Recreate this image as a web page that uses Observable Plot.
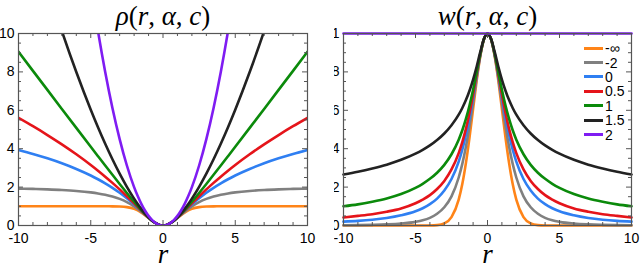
<!DOCTYPE html>
<html><head><meta charset="utf-8">
<script src="https://cdn.jsdelivr.net/npm/d3@7"></script>
<script src="https://cdn.jsdelivr.net/npm/@observablehq/plot@0.6"></script>
<style>
body{margin:0;background:#fff;}
#wrap{position:relative;width:640px;height:266px;overflow:hidden;background:#fff;}
#left{position:absolute;left:0;top:0;}
#right{position:absolute;left:334px;top:0;}
#legend{position:absolute;left:584px;top:41px;font-family:"Liberation Sans",Arial,sans-serif;font-size:14px;color:#000;}
.row{display:flex;align-items:center;height:14.4px;}
.sw{width:19px;height:3px;margin-right:2px;}
</style></head><body>
<div id="wrap"><div id="left"></div><div id="right"></div><div id="legend"></div></div>
<script>
// sampled radius (positive half; curves are symmetric in r)
const rHalf = [0,0.25,0.5,0.75,1,1.25,1.5,1.75,2,2.5,3,3.5,4,4.5,5,6,7,8,9,10];
const alphaLabels = ["-∞","-2","0","0.5","1","1.5","2"];
const colors = ["#ff8418","#808080","#2f7ff2","#e5141a","#0b8a0b","#222222","#7f1cf2"];

// rho(r, alpha, c)
const rhoNegInf = [0,0.031,0.118,0.245,0.393,0.542,0.675,0.784,0.865,0.956,0.989,0.998,1,1,1,1,1,1,1,1];
const rhoNeg2 = [0,0.031,0.118,0.247,0.4,0.562,0.72,0.867,1,1.22,1.385,1.508,1.6,1.67,1.724,1.8,1.849,1.882,1.906,1.923];
const rho0 = [0,0.031,0.118,0.248,0.406,0.577,0.754,0.929,1.099,1.417,1.705,1.964,2.197,2.409,2.603,2.944,3.239,3.497,3.726,3.932];
const rho05 = [0,0.031,0.118,0.249,0.409,0.586,0.772,0.962,1.151,1.523,1.88,2.22,2.544,2.854,3.15,3.708,4.226,4.712,5.17,5.604];
const rho1 = [0,0.031,0.118,0.25,0.414,0.601,0.803,1.016,1.236,1.693,2.162,2.64,3.123,3.61,4.099,5.083,6.071,7.062,8.055,9.05];
const rho15 = [0,0.031,0.118,0.253,0.427,0.631,0.864,1.12,1.399,2.014,2.7,3.449,4.256,5.117,6.028,7.991,10.128,12.426,14.873,17.461];
const rho2 = [0,0.031,0.125,0.281,0.5,0.781,1.125,1.531,2,3.125,4.5,6.125,8,10.125,12.5,18,24.5,32,40.5,50];

// w(r, alpha, c)
const wNegInf = [1,0.969,0.882,0.755,0.607,0.458,0.325,0.216,0.135,0.044,0.011,0.002,0.0003,0,0,0,0,0,0,0];
const wNeg2 = [1,0.969,0.886,0.769,0.64,0.517,0.41,0.321,0.25,0.152,0.095,0.061,0.04,0.027,0.019,0.01,0.0057,0.0035,0.0022,0.0015];
const w0 = [1,0.97,0.889,0.78,0.667,0.561,0.471,0.395,0.333,0.242,0.182,0.14,0.111,0.09,0.074,0.053,0.039,0.03,0.024,0.02];
const w05 = [1,0.97,0.891,0.788,0.682,0.586,0.503,0.434,0.377,0.292,0.232,0.19,0.158,0.135,0.116,0.089,0.072,0.059,0.05,0.042];
const w1 = [1,0.97,0.894,0.8,0.707,0.625,0.555,0.496,0.447,0.371,0.316,0.275,0.243,0.217,0.196,0.164,0.141,0.124,0.11,0.1];
const w15 = [1,0.971,0.904,0.828,0.76,0.702,0.653,0.612,0.577,0.522,0.479,0.445,0.417,0.394,0.374,0.342,0.317,0.297,0.28,0.266];
const w2 = [1,1,1,1,1,1,1,1,1,1,1,1,1,1,1,1,1,1,1,1];

const xTicks = [-10,-5,0,5,10];
const rhoTicks = [0,2,4,6,8,10];
const wTicks = [0,0.2,0.4,0.6,0.8,1];
const rhoTitle = ["ρ","(","r",", ","α",", ","c",")"];
const wTitle = ["w","(","r",", ","α",", ","c",")"];
const xLabel = "r";

function mirror(vals){
  const rows = [];
  for (let j = rHalf.length - 1; j > 0; j--) rows.push({r: -rHalf[j], v: vals[j]});
  for (let j = 0; j < rHalf.length; j++) rows.push({r: rHalf[j], v: vals[j]});
  return rows;
}
function table(seriesList){
  const out = [];
  seriesList.forEach((vals, i) => mirror(vals).forEach(d => out.push({...d, a: alphaLabels[i]})));
  return out;
}
const rhoData = table([rhoNegInf, rhoNeg2, rho0, rho05, rho1, rho15, rho2]);
const wData = table([wNegInf, wNeg2, w0, w05, w1, w15, w2]);

const frameColor = "#555";
function tickMarks(fw, fh, xMaj, xMin, yMaj, yMin){
  const M = 5, m = 3, s = {stroke: frameColor, strokeWidth: 1};
  const out = [];
  for (const [arr, L] of [[xMaj, M],[xMin, m]]) {
    out.push(Plot.ruleX(arr, {x: d => d, insetTop: fh - L, ...s}));
    out.push(Plot.ruleX(arr, {x: d => d, insetBottom: fh - L, ...s}));
  }
  for (const [arr, L] of [[yMaj, M],[yMin, m]]) {
    out.push(Plot.ruleY(arr, {y: d => d, insetRight: fw - L, ...s}));
    out.push(Plot.ruleY(arr, {y: d => d, insetLeft: fw - L, ...s}));
  }
  return out;
}
const xMinor = d3.range(-10, 10.01, 1).filter(d => d % 5 !== 0);

function panel({width, ml, mr, data, yDomain, yTicks, yMinor, yFmt, title, clip}){
  const mt = 33, mb = 41, height = 266;
  const fw = width - ml - mr, fh = height - mt - mb;
  const titleKey = title.join("");
  const svg = Plot.plot({
    width, height, marginLeft: ml, marginRight: mr, marginTop: mt, marginBottom: mb,
    x: {domain: [-10, 10], label: null},
    y: {domain: yDomain, label: null},
    color: {domain: alphaLabels, range: colors},
    style: {fontFamily: "'Liberation Sans', Arial, sans-serif", fontSize: "14px", color: "#000", background: "white", overflow: "hidden"},
    marks: [
      Plot.line(data, {x: "r", y: "v", z: "a", stroke: "a", strokeWidth: 2.6, curve: "monotone-x", clip}),
      Plot.frame({stroke: frameColor, strokeWidth: 1.2}),
      ...tickMarks(fw, fh, xTicks, xMinor, yTicks, yMinor),
      Plot.axisX({ticks: xTicks, tickSize: 0, tickPadding: 8, tickFormat: d => String(d), fill: "#000", label: null}),
      Plot.axisY({ticks: yTicks, tickSize: 0, tickPadding: 4, tickFormat: yFmt, fill: "#000", label: null}),
      Plot.text([titleKey], {frameAnchor: "top", dy: -9, lineAnchor: "bottom", fontFamily: "'Liberation Serif', serif", fontSize: 27, fill: "#000"}),
      Plot.text([xLabel], {frameAnchor: "bottom", dy: 37, lineAnchor: "bottom", fontFamily: "'Liberation Serif', serif", fontStyle: "italic", fontSize: 27, fill: "#000"})
    ]
  });
  // math-style title: italic symbols, upright punctuation
  d3.select(svg).selectAll("text").filter(function(){ return this.textContent === titleKey; }).each(function(){
    const t = d3.select(this); t.text(null);
    title.forEach((part, i) => {
      const ts = t.append("tspan").text(part);
      if (i % 2 === 0) ts.attr("font-style", "italic");
      if (part === ", ") ts.attr("style", "white-space:pre");
    });
  });
  return svg;
}

document.getElementById("left").append(panel({
  width: 320, ml: 18, mr: 13, data: rhoData, yDomain: [0, 10], yTicks: rhoTicks,
  yMinor: d3.range(0, 10.01, 0.5).filter(d => d % 2 !== 0), yFmt: d => String(d), title: rhoTitle, clip: true
}));
document.getElementById("right").append(panel({
  width: 306, ml: 9, mr: 9, data: wData, yDomain: [0, 1], yTicks: wTicks,
  yMinor: d3.range(0, 20.01, 1).filter(d => d % 4 !== 0).map(d => d / 20), yFmt: d => String(d), title: wTitle, clip: false
}));

const leg = document.getElementById("legend");
alphaLabels.forEach((a, i) => {
  const row = document.createElement("div"); row.className = "row";
  const sw = document.createElement("div"); sw.className = "sw"; sw.style.background = colors[i];
  const t = document.createElement("span"); t.textContent = a;
  row.append(sw, t); leg.append(row);
});
</script>
</body></html>
